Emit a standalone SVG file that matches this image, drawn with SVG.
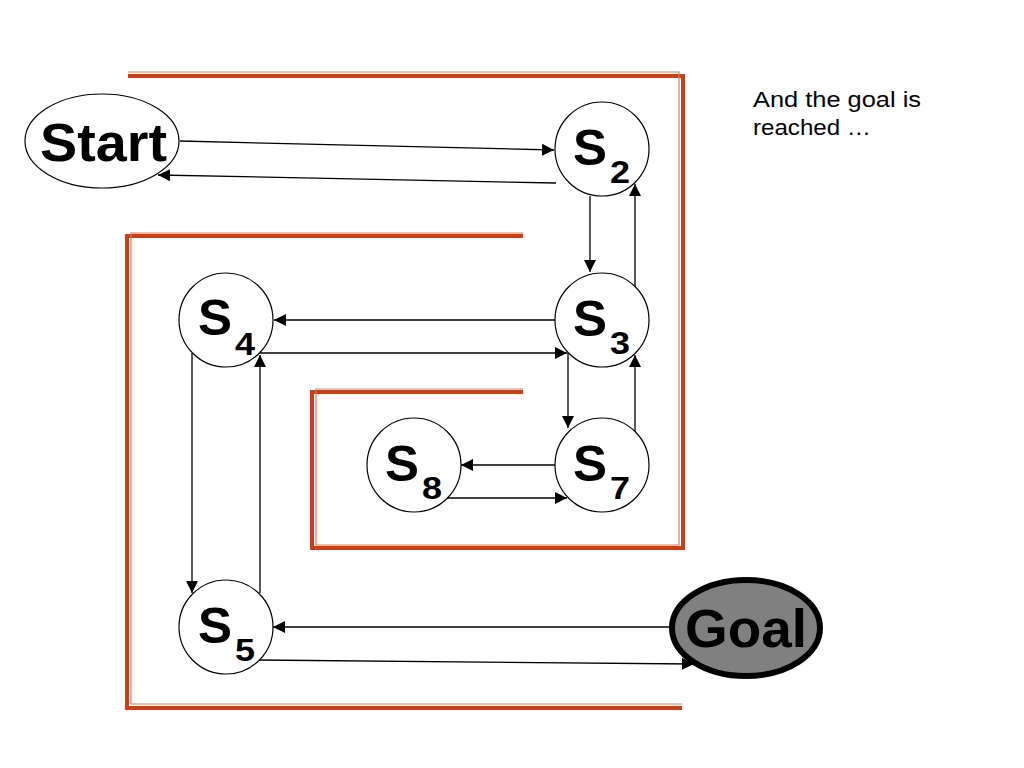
<svg xmlns="http://www.w3.org/2000/svg" width="1024" height="768" viewBox="0 0 1024 768">
<defs>
<marker id="ah" viewBox="0 0 10 10" refX="10" refY="5" markerWidth="12" markerHeight="12" markerUnits="userSpaceOnUse" orient="auto">
<path d="M0,0 L10,5 L0,10 Z" fill="#000"/>
</marker>
</defs>
<style>
.wall{fill:none;stroke:#c8401a;stroke-width:4;stroke-linejoin:miter}
.wall2{fill:none;stroke:#e07a55;stroke-width:1.2}
.node{fill:#fff;stroke:#000;stroke-width:1.2}
.lbl{font-family:"Liberation Sans",Arial,sans-serif;font-weight:bold;fill:#000}
.s{font-size:50px}
.sub{font-size:32px}
.edge{fill:none;stroke:#000;stroke-width:1.3;marker-end:url(#ah)}
.note{font-family:"Liberation Sans",Arial,sans-serif;font-size:22px;fill:#000}
</style>
<rect width="1024" height="768" fill="#fff"/>
<g id="walls">
<path class="wall" d="M128,76 H683 V548 H312 V392 H523"/>
<path class="wall2" d="M128,72 H679 V545 H316 V389 H523"/>
<path class="wall" d="M523,236 H127 V708 H682"/>
<path class="wall2" d="M523,233 H131 V704 H682"/>
</g>
<g id="connectors">
<path class="edge" d="M180,141 L554,150"/>
<path class="edge" d="M556,183 L158,175"/>
<path class="edge" d="M590,196 L590,272"/>
<path class="edge" d="M635,287 L635,184"/>
<path class="edge" d="M555,320 L274,320"/>
<path class="edge" d="M258,353 L567,353"/>
<path class="edge" d="M568,353 L568,428"/>
<path class="edge" d="M635,432 L635,355"/>
<path class="edge" d="M555,465 L461,465"/>
<path class="edge" d="M447,498 L567,498"/>
<path class="edge" d="M192,353 L192,593"/>
<path class="edge" d="M260,593 L260,355"/>
<path class="edge" d="M671,627 L273,627"/>
<path class="edge" d="M258,660 L694,664"/>
</g>
<g id="start">
<ellipse class="node" cx="102" cy="141" rx="77" ry="47"/>
<text class="lbl" x="40" y="161" font-size="54" textLength="127" lengthAdjust="spacingAndGlyphs">Start</text>
</g>
<g id="s2">
<circle class="node" cx="602" cy="149" r="47"/>
<text class="lbl s" x="573" y="165" textLength="34" lengthAdjust="spacingAndGlyphs">S</text><text class="lbl sub" x="610" y="183" textLength="20" lengthAdjust="spacingAndGlyphs">2</text>
</g>
<g id="s3">
<circle class="node" cx="602" cy="320" r="47"/>
<text class="lbl s" x="573" y="336" textLength="34" lengthAdjust="spacingAndGlyphs">S</text><text class="lbl sub" x="610" y="354" textLength="20" lengthAdjust="spacingAndGlyphs">3</text>
</g>
<g id="s4">
<circle class="node" cx="226" cy="320" r="47"/>
<text class="lbl s" x="198" y="335" textLength="34" lengthAdjust="spacingAndGlyphs">S</text><text class="lbl sub" x="235" y="355" textLength="20" lengthAdjust="spacingAndGlyphs">4</text>
</g>
<g id="s7">
<circle class="node" cx="602" cy="465" r="47"/>
<text class="lbl s" x="573" y="481" textLength="34" lengthAdjust="spacingAndGlyphs">S</text><text class="lbl sub" x="610" y="499" textLength="20" lengthAdjust="spacingAndGlyphs">7</text>
</g>
<g id="s8">
<circle class="node" cx="414" cy="465" r="47"/>
<text class="lbl s" x="385" y="481" textLength="34" lengthAdjust="spacingAndGlyphs">S</text><text class="lbl sub" x="422" y="499" textLength="20" lengthAdjust="spacingAndGlyphs">8</text>
</g>
<g id="s5">
<circle class="node" cx="226" cy="627" r="47"/>
<text class="lbl s" x="198" y="643" textLength="34" lengthAdjust="spacingAndGlyphs">S</text><text class="lbl sub" x="235" y="661" textLength="20" lengthAdjust="spacingAndGlyphs">5</text>
</g>
<g id="goal">
<ellipse cx="746" cy="628" rx="74" ry="48" fill="#808080" stroke="#000" stroke-width="6"/>
<text class="lbl" x="685" y="647" font-size="54" textLength="122" lengthAdjust="spacingAndGlyphs">Goal</text>
</g>
<g id="note">
<text class="note" x="753" y="107" textLength="168" lengthAdjust="spacingAndGlyphs">And the goal is</text>
<text class="note" x="753" y="135" textLength="118" lengthAdjust="spacingAndGlyphs">reached …</text>
</g>
</svg>
